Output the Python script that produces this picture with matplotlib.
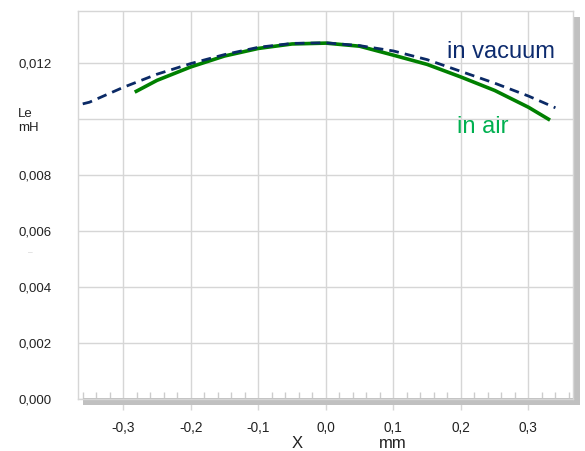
import matplotlib
matplotlib.use("Agg")
import matplotlib.pyplot as plt
from matplotlib.patches import Rectangle
from matplotlib.ticker import MultipleLocator

plt.rcParams['font.family'] = ['Liberation Sans', 'DejaVu Sans']

# Data
vac_x = [-0.36, -0.35, -0.30, -0.25, -0.20, -0.15, -0.10, -0.05, 0.00, 0.05, 0.10, 0.15, 0.20, 0.25, 0.30, 0.34]
vac_y = [0.01054, 0.01060, 0.01113, 0.01160, 0.01198, 0.01230, 0.01256, 0.01270, 0.01272, 0.01262,
         0.01243, 0.01212, 0.01170, 0.01128, 0.01082, 0.01040]
air_x = [-0.283, -0.25, -0.20, -0.15, -0.10, -0.05, 0.00, 0.05, 0.10, 0.15, 0.20, 0.25, 0.30, 0.332]
air_y = [0.01096, 0.01138, 0.01186, 0.01225, 0.01252, 0.01268, 0.01271, 0.01260, 0.01228, 0.01195,
         0.01150, 0.01102, 0.01042, 0.00996]

x_ticks = [-0.3, -0.2, -0.1, 0.0, 0.1, 0.2, 0.3]
x_labels = ['-0,3', '-0,2', '-0,1', '0,0', '0,1', '0,2', '0,3']
y_ticks = [0.000, 0.002, 0.004, 0.006, 0.008, 0.010, 0.012]
y_labels = ['0,000', '0,002', '0,004', '0,006', '0,008', '', '0,012']

W, H = 585, 451
fig = plt.figure(figsize=(W / 100, H / 100), dpi=100)
L, R, T, B = 78, 573, 11, 399
ax = fig.add_axes([L / W, 1 - B / H, (R - L) / W, (B - T) / H])

grid_c = '#d6d6d6'
ax.set_xlim(-0.367, 0.366)
ax.set_ylim(0, 0.013857)
ax.set_xticks(x_ticks)
ax.set_xticklabels(x_labels)
ax.set_yticks(y_ticks)
ax.set_yticklabels(y_labels)
ax.xaxis.set_minor_locator(MultipleLocator(0.02))
ax.grid(True, color=grid_c, linewidth=1.0, zorder=0)
ax.set_axisbelow(True)
for s in ax.spines.values():
    s.set_color(grid_c)
    s.set_linewidth(1.0)

ax.tick_params(axis='y', length=0, pad=19, labelsize=9.5, labelcolor='#222222')
ax.tick_params(axis='x', which='major', length=8, width=1, color=grid_c, direction='out',
               pad=8, labelsize=9.8, labelcolor='#222222')
ax.tick_params(axis='x', which='minor', length=5, width=1, color='#cccccc', direction='in')

# shadow
pw, ph = R - L, B - T
shadow_c = '#c0c0c0'
ax.add_patch(Rectangle(((83 - L) / pw, -6 / ph), (580 - 83) / pw, 7 / ph,
                       transform=ax.transAxes, facecolor=shadow_c, edgecolor='none',
                       clip_on=False, zorder=1))
ax.add_patch(Rectangle((1.0, -6 / ph), 7 / pw, (B - 17 + 6) / ph,
                       transform=ax.transAxes, facecolor=shadow_c, edgecolor='none',
                       clip_on=False, zorder=1))

ax.plot(air_x, air_y, color='#008000', linewidth=2.6, solid_capstyle='butt', zorder=3)
ax.plot(vac_x, vac_y, color='#0b2a66', linewidth=2.0, dashes=(3.5, 2.2), zorder=4)

fig.text(447 / W, 1 - 52 / H, 'in vacuum', color='#0d2b6e', fontsize=17, ha='left', va='center')
fig.text(457 / W, 1 - 127 / H, 'in air', color='#00b050', fontsize=17, ha='left', va='center')

fig.text(297 / W, 1 - 443 / H, 'X', fontsize=12, ha='center', va='center', color='#222222')
fig.text(393 / W, 1 - 443 / H, 'mm', fontsize=12, ha='center', va='center', color='#222222')
fig.text(18 / W, 1 - 121 / H, 'Le\nmH', fontsize=9.5, ha='left', va='center',
         linespacing=1.3, color='#222222')
fig.text(30 / W, 1 - 253 / H, '–', fontsize=6, ha='center', va='center', color='#c8c8c8')

fig.savefig('out.png', dpi=100)
